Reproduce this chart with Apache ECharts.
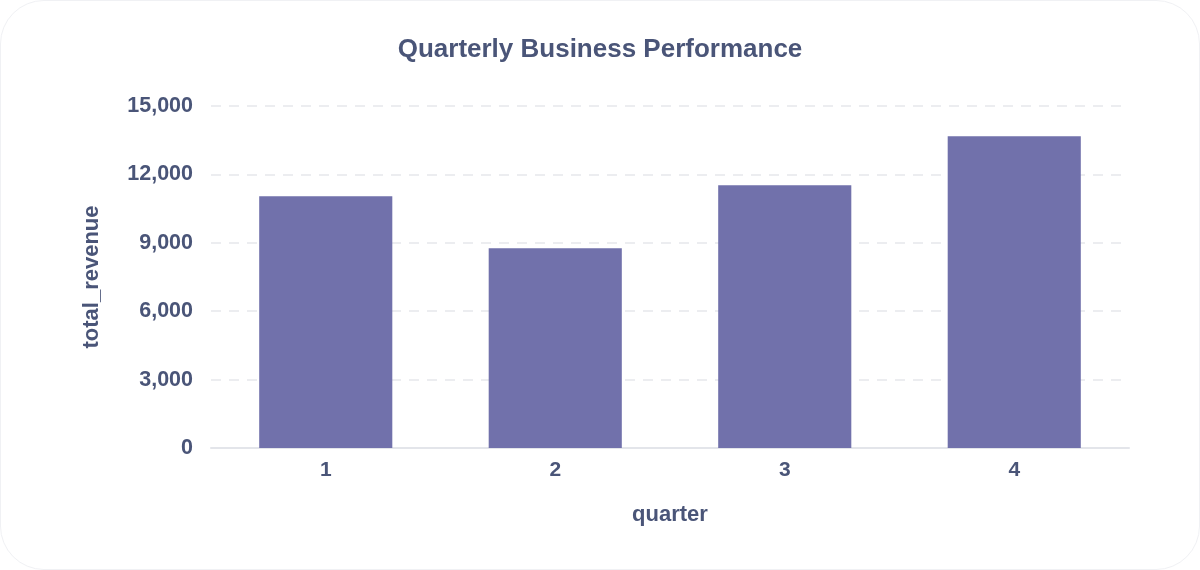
<!DOCTYPE html>
<html>
<head>
<meta charset="utf-8">
<script src="https://cdn.jsdelivr.net/npm/echarts@6/dist/echarts.min.js"></script>
<style>
  html, body { margin: 0; padding: 0; background: #fff; }
  #wrap {
    width: 1198px; height: 568px;
    border: 1px solid #f0f1f4; border-radius: 44px;
    overflow: hidden;
  }
  #chart { width: 1198px; height: 568px; }
</style>
</head>
<body>
<div id="wrap"><div id="chart"></div></div>
<script>
const quarters = ['1', '2', '3', '4']
const totalRevenue = [11040, 8760, 11520, 13670]

const textColor = '#4a5578'
const font = 'Helvetica, Arial, "Liberation Sans", sans-serif'

const chart = echarts.init(document.getElementById('chart'))
chart.setOption({
  textStyle: { fontFamily: font },
  title: {
    text: 'Quarterly Business Performance',
    left: 'center',
    top: 31,
    textStyle: { color: textColor, fontSize: 26, fontWeight: 'bold', fontFamily: font }
  },
  grid: { left: 210, right: 70, top: 105, bottom: 121 },
  xAxis: {
    type: 'category',
    data: quarters,
    name: 'quarter',
    nameLocation: 'middle',
    nameGap: 56,
    nameTextStyle: { color: textColor, fontSize: 22, fontWeight: 'bold' },
    axisTick: { show: false },
    axisLine: { lineStyle: { color: '#e3e5ea', width: 2 } },
    axisLabel: { color: textColor, fontSize: 21, fontWeight: 'bold', margin: 12 }
  },
  yAxis: {
    type: 'value',
    min: 0,
    max: 15000,
    interval: 3000,
    name: 'total_revenue',
    nameLocation: 'middle',
    nameGap: 108,
    nameTextStyle: { color: textColor, fontSize: 22, fontWeight: 'bold' },
    axisLine: { show: false },
    axisTick: { show: false },
    axisLabel: {
      color: textColor, fontSize: 21.5, fontWeight: 'bold', margin: 18,
      formatter: v => v.toLocaleString('en-US')
    },
    splitLine: { lineStyle: { color: '#e6e8ec', type: [10, 8], width: 1.5 } }
  },
  series: [
    {
      type: 'bar',
      data: totalRevenue,
      barWidth: '58%',
      itemStyle: { color: '#7171ab' }
    }
  ]
})
</script>
</body>
</html>
